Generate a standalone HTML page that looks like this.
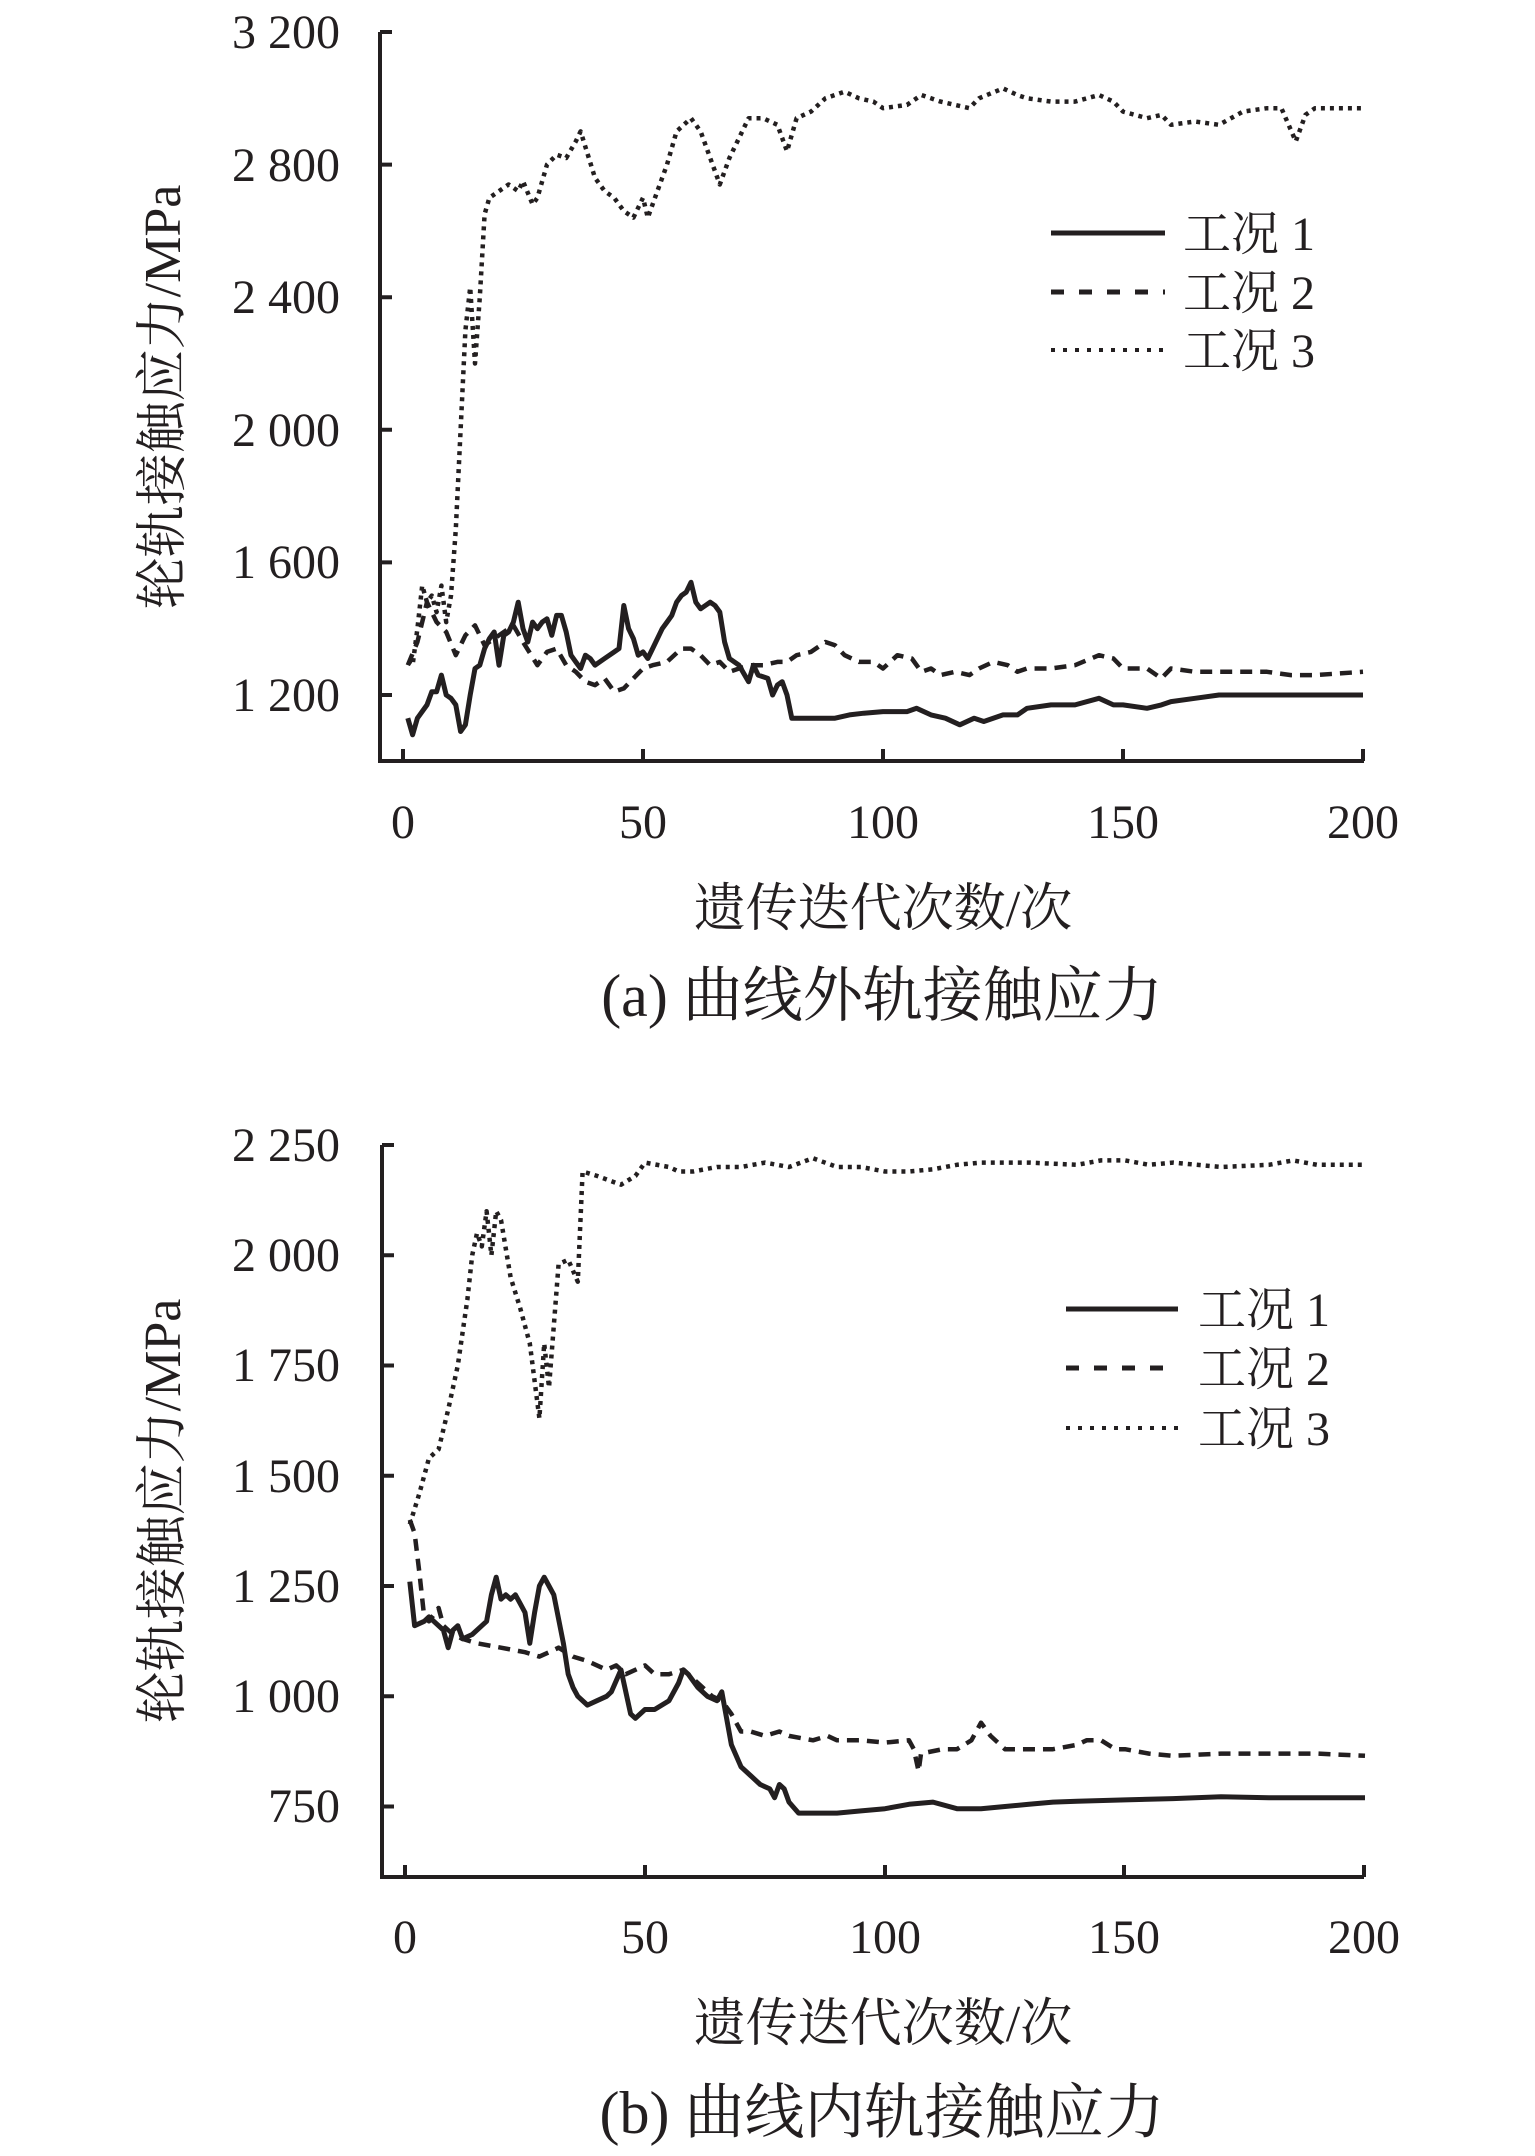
<!DOCTYPE html>
<html><head><meta charset="utf-8">
<style>
html,body{margin:0;padding:0;background:#fff;}
svg{display:block;}
text{font-family:"Liberation Serif","Noto Serif CJK SC",serif;fill:#231f20;}
</style></head>
<body>
<svg id="s" width="1535" height="2156" viewBox="0 0 1535 2156" xmlns="http://www.w3.org/2000/svg">
<g stroke="#231f20" stroke-width="4" fill="none">
<path d="M380,32 V761 H1364"/>
<path d="M380,32 h12 M380,164.6 h12 M380,297.2 h12 M380,429.8 h12 M380,562.4 h12 M380,695 h12"/>
<path d="M403,761 v-12 M643,761 v-12 M883,761 v-12 M1123,761 v-12 M1363,761 v-12"/>
<path d="M382,1145 V1877 H1364"/>
<path d="M382,1145 h12 M382,1255.3 h12 M382,1365.5 h12 M382,1475.8 h12 M382,1586 h12 M382,1696.3 h12 M382,1806.5 h12"/>
<path d="M405,1877 v-12 M645,1877 v-12 M885,1877 v-12 M1124,1877 v-12 M1364,1877 v-12"/>
<path d="M1051,233 H1165" stroke-width="5"/>
<path d="M1051,292 H1165" stroke-width="5" stroke-dasharray="13,15"/>
<path d="M1051,350 H1165" stroke-width="4" stroke-dasharray="4,8"/>
<path d="M1066,1309 H1178" stroke-width="5"/>
<path d="M1066,1368 H1178" stroke-width="5" stroke-dasharray="13,15"/>
<path d="M1066,1428 H1178" stroke-width="4" stroke-dasharray="4,8"/>
</g>
<g id="series" fill="none" stroke="#231f20" stroke-linejoin="round"></g>
<g font-size="48" text-anchor="end">
<text x="340" y="48">3 200</text><text x="340" y="181">2 800</text><text x="340" y="313">2 400</text>
<text x="340" y="446">2 000</text><text x="340" y="578">1 600</text><text x="340" y="711">1 200</text>
<text x="340" y="1161">2 250</text><text x="340" y="1271">2 000</text><text x="340" y="1381">1 750</text>
<text x="340" y="1492">1 500</text><text x="340" y="1602">1 250</text><text x="340" y="1712">1 000</text><text x="340" y="1822">750</text>
</g>
<g font-size="48" text-anchor="middle">
<text x="403" y="838">0</text><text x="643" y="838">50</text><text x="883" y="838">100</text><text x="1123" y="838">150</text><text x="1363" y="838">200</text>
<text x="405" y="1953">0</text><text x="645" y="1953">50</text><text x="885" y="1953">100</text><text x="1124" y="1953">150</text><text x="1364" y="1953">200</text>
</g>
<g font-size="48">
<text x="1183" y="250">工况 1</text><text x="1183" y="309">工况 2</text><text x="1183" y="367">工况 3</text>
<text x="1198" y="1326">工况 1</text><text x="1198" y="1385">工况 2</text><text x="1198" y="1445">工况 3</text>
</g>
<g font-size="52" text-anchor="middle">
<text x="883" y="926">遗传迭代次数/次</text>
<text x="883" y="2041">遗传迭代次数/次</text>
<text transform="translate(180,397) rotate(-90)">轮轨接触应力/MPa</text>
<text transform="translate(180,1511) rotate(-90)">轮轨接触应力/MPa</text>
</g>
<g font-size="60" text-anchor="middle">
<text x="882" y="1016">(a) 曲线外轨接触应力</text>
<text x="882" y="2133">(b) 曲线内轨接触应力</text>
</g>
</svg>
<script>
var A3=[1,1300,2,1290,3,1400,4,1530,5,1480,6,1500,7,1450,8,1530,9,1420,10,1500,11,1700,12,2000,13,2300,14,2430,15,2200,16,2400,17,2650,18,2700,20,2720,22,2740,24,2720,25,2750,27,2680,28,2700,30,2800,32,2830,34,2820,36,2870,37,2900,40,2760,42,2720,44,2700,46,2660,48,2640,50,2700,51,2640,53,2720,55,2800,57,2900,60,2940,62,2900,64,2820,66,2740,68,2820,70,2880,72,2940,75,2940,78,2920,80,2840,82,2940,85,2960,88,3000,92,3020,95,3000,98,2990,100,2970,105,2980,108,3010,112,2990,115,2980,118,2970,120,3000,125,3030,128,3010,130,3000,135,2990,140,2990,145,3010,148,2990,150,2960,155,2940,158,2950,160,2920,165,2930,170,2920,175,2960,180,2970,183,2970,186,2870,188,2950,190,2970,195,2970,200,2970];
var A2=[1,1290,3,1360,5,1480,7,1420,9,1390,11,1320,13,1380,15,1410,17,1350,20,1380,23,1410,25,1360,28,1290,30,1330,32,1340,34,1290,36,1270,38,1240,40,1230,42,1250,44,1210,46,1220,48,1250,50,1280,52,1290,55,1300,58,1340,60,1340,62,1320,64,1290,66,1300,68,1270,70,1280,72,1290,75,1290,78,1300,80,1300,82,1320,85,1330,88,1360,90,1350,92,1320,95,1300,98,1300,100,1280,103,1320,106,1310,108,1270,110,1280,112,1260,115,1270,118,1260,120,1280,123,1300,126,1290,128,1270,130,1280,135,1280,140,1290,145,1320,148,1310,150,1280,155,1280,158,1250,160,1280,165,1270,170,1270,175,1270,180,1270,185,1260,190,1260,200,1270];
var A1=[1,1130,2,1080,3,1130,5,1170,6,1210,7,1210,8,1260,9,1200,10,1190,11,1170,12,1090,13,1110,14,1200,15,1280,16,1290,17,1340,18,1370,19,1390,20,1290,21,1380,22,1390,23,1420,24,1480,25,1400,26,1360,27,1420,28,1400,29,1420,30,1430,31,1380,32,1440,33,1440,34,1390,35,1320,36,1300,37,1280,38,1320,39,1310,40,1290,42,1310,44,1330,45,1340,46,1470,47,1400,48,1370,49,1320,50,1330,51,1310,52,1340,54,1400,55,1420,56,1440,57,1480,58,1500,59,1510,60,1540,61,1480,62,1460,63,1470,64,1480,65,1470,66,1450,67,1360,68,1310,70,1290,72,1240,73,1290,74,1260,76,1250,77,1200,78,1230,79,1240,80,1200,81,1130,85,1130,90,1130,93,1140,96,1145,100,1150,105,1150,107,1160,110,1140,113,1130,116,1110,119,1130,121,1120,125,1140,128,1140,130,1160,135,1170,140,1170,145,1190,148,1170,150,1170,155,1160,158,1170,160,1180,165,1190,170,1200,180,1200,190,1200,200,1200];
var B3=[1,1390,3,1460,5,1540,7,1560,9,1650,11,1750,13,1900,14,2000,15,2050,16,2020,17,2100,18,2000,19,2100,20,2080,22,1950,24,1880,26,1800,28,1630,29,1800,30,1700,32,1980,34,1990,36,1940,37,2190,40,2180,45,2160,48,2180,50,2210,55,2200,57,2190,60,2190,65,2200,70,2200,75,2210,80,2200,85,2220,90,2200,95,2200,100,2190,105,2190,110,2195,115,2205,120,2210,130,2210,140,2205,145,2215,150,2215,155,2205,160,2210,170,2200,180,2205,185,2215,190,2205,200,2205];
var B2=[1,1400,2,1370,3,1280,4,1180,5,1170,7,1200,8,1160,10,1140,12,1130,15,1120,20,1110,25,1100,28,1090,30,1100,32,1110,35,1090,38,1080,40,1070,42,1060,44,1070,46,1050,48,1060,50,1070,52,1050,55,1050,58,1060,60,1040,62,1020,64,1000,66,990,68,960,70,920,72,920,75,910,78,920,80,910,85,900,88,910,90,900,95,900,100,895,105,900,106,880,107,830,107.5,870,112,880,115,880,118,900,120,940,122,910,125,880,130,880,135,880,140,890,142,900,145,900,148,880,150,880,155,870,160,865,170,870,180,870,190,870,200,865];
var B1=[1,1260,2,1160,4,1170,5,1180,6,1170,8,1150,9,1110,10,1150,11,1160,12,1130,14,1140,16,1160,17,1170,18,1230,19,1270,20,1220,21,1230,22,1220,23,1230,24,1210,25,1190,26,1120,27,1190,28,1250,29,1270,30,1250,31,1230,33,1120,34,1050,35,1020,36,1000,38,980,40,990,42,1000,43,1010,45,1060,47,960,48,950,50,970,52,970,55,990,57,1030,58,1060,59,1050,61,1020,63,1000,65,990,66,1010,67,950,68,890,70,840,72,820,74,800,76,790,77,770,78,800,79,790,80,760,82,735,85,735,90,735,95,740,100,745,105,755,110,760,115,745,120,745,125,750,130,755,135,760,140,762,150,765,160,768,170,772,180,770,190,770,200,770];
function mk(arr,x0,y0,v0,k){var d="";for(var i=0;i<arr.length;i+=2){var x=x0+arr[i]*4.8,y=y0+(v0-arr[i+1])*k;d+=(i?"L":"M")+x.toFixed(1)+","+y.toFixed(1);}return d;}
var g=document.getElementById("series"),ns="http://www.w3.org/2000/svg";
function add(d,w,da){var p=document.createElementNS(ns,"path");p.setAttribute("d",d);p.setAttribute("stroke-width",w);if(da)p.setAttribute("stroke-dasharray",da);g.appendChild(p);}
var ka=0.3315,kb=0.441;
add(mk(A3,403,32,3200,ka),4.5,"4,5");
add(mk(A2,403,32,3200,ka),4.5,"12,8");
add(mk(A1,403,32,3200,ka),5,null);
add(mk(B3,405,1145,2250,kb),4.5,"4,5");
add(mk(B2,405,1145,2250,kb),4.5,"12,8");
add(mk(B1,405,1145,2250,kb),5,null);
</script>
</body></html>
